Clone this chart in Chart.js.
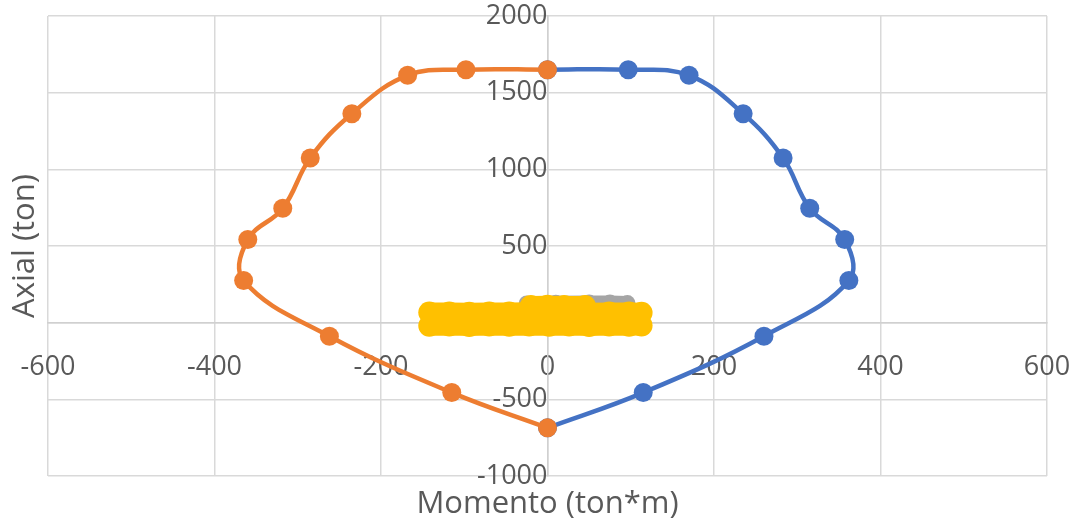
<!DOCTYPE html>
<html>
<head>
<meta charset="utf-8">
<script src="https://cdn.jsdelivr.net/npm/chart.js@4.4.1/dist/chart.umd.min.js"></script>
<style>
  html, body { margin: 0; padding: 0; background: #fff; }
  #wrap { width: 1076px; height: 525px; }
</style>
</head>
<body>
<div id="wrap"><canvas id="myChart" width="1076" height="525"></canvas></div>
<script>
// interaction diagram, positive side (ton*m, ton)
const posMoment = [0, 97, 170, 235, 283, 315, 357, 362, 260, 115, 0];
const posAxial  = [1650, 1650, 1613, 1363, 1074, 746, 542, 275, -88, -456, -686];

// negative side
const negMoment = [0, -98, -168, -235, -285, -318, -360, -365, -262, -115, 0];
const negAxial  = [1650, 1650, 1613, 1363, 1074, 746, 542, 275, -88, -456, -686];

// demand points
const loadMoment = [-142, -118, -94, -70, -46, -22, 2, 26, 50, 74, 98, 113,
                    -142, -118, -94, -70, -46, -22, 2, 26, 50, 74, 98, 113,
                    -20, 0, 20, 45];
const loadAxial  = [66, 67, 65, 66, 66, 68, 66, 67, 65, 66, 66, 65,
                    -20, -19, -21, -19, -20, -18, -20, -19, -21, -19, -20, -19,
                    108, 110, 109, 108];

const extraMoment = [-25, 10, 50, 75, 96];
const extraAxial  = [125, 130, 131, 131, 128];

const xTicks = [-600, -400, -200, 0, 200, 400, 600];
const yTicks = [-1000, -500, 0, 500, 1000, 1500, 2000];

const toPts = (xs, ys) => xs.map((x, i) => ({ x: x, y: ys[i] }));

const noPad = (scale) => {
  scale.paddingTop = 0;
  scale.paddingBottom = 0;
  scale.paddingLeft = 0;
  scale.paddingRight = 0;
};

const axisTitles = {
  id: 'axisTitles',
  afterDraw(chart) {
    const { ctx, chartArea } = chart;
    ctx.save();
    ctx.fillStyle = '#595959';
    ctx.font = '31px "Open Sans"';
    ctx.textAlign = 'center';
    ctx.textBaseline = 'middle';
    ctx.fillText('Momento (ton*m)', (chartArea.left + chartArea.right) / 2, 504);
    ctx.translate(25, (chartArea.top + chartArea.bottom) / 2);
    ctx.rotate(-Math.PI / 2);
    ctx.fillText('Axial (ton)', 0, 0);
    ctx.restore();
  }
};

var ctx = document.getElementById('myChart').getContext('2d');

new Chart(ctx, {
  type: 'scatter',
  data: {
    datasets: [
      {
        data: toPts(loadMoment, loadAxial),
        label: 'Demanda',
        showLine: true,
        backgroundColor: '#FFC000',
        borderColor: '#FFC000',
        borderWidth: 20,
        pointBorderWidth: 0,
        pointRadius: 11,
        pointHoverRadius: 11,
      },
      {
        data: toPts(extraMoment, extraAxial),
        label: 'Demanda 2',
        showLine: true,
        backgroundColor: '#A5A5A5',
        borderColor: '#A5A5A5',
        borderWidth: 14,
        pointBorderWidth: 0,
        pointRadius: 8,
      },
      {
        data: toPts(negMoment, negAxial),
        label: 'Negativo',
        showLine: true,
        tension: 0.4,
        borderColor: '#ED7D31',
        backgroundColor: '#ED7D31',
        borderWidth: 4.5,
        pointBorderWidth: 0,
        pointRadius: 9.5,
      },
      {
        data: toPts(posMoment, posAxial),
        label: 'Positivo',
        showLine: true,
        tension: 0.4,
        borderColor: '#4472C4',
        backgroundColor: '#4472C4',
        borderWidth: 4.5,
        pointBorderWidth: 0,
        pointRadius: 9.5,
      },
    ],
  },
  options: {
    responsive: false,
    animation: false,
    layout: { padding: { left: 48, right: 29, top: 16, bottom: 49 } },
    plugins: {
      legend: { display: false },
      tooltip: { enabled: false },
    },
    scales: {
      x: {
        type: 'linear',
        position: { y: 0 },
        min: -600,
        max: 600,
        afterBuildTicks: (axis) => { axis.ticks = xTicks.map((v) => ({ value: v })); },
        afterFit: noPad,
        grid: { color: '#d9d9d9', lineWidth: 1.5, drawTicks: false },
        border: { color: '#d0d0d0', width: 1.5 },
        ticks: {
          color: '#595959',
          font: { family: 'Open Sans', size: 27 },
          padding: 28,
          callback: (v) => String(v),
        },
      },
      y: {
        type: 'linear',
        position: { x: 0 },
        min: -1000,
        max: 2000,
        afterBuildTicks: (axis) => { axis.ticks = yTicks.map((v) => ({ value: v })); },
        afterFit: noPad,
        grid: { color: '#d9d9d9', lineWidth: 1.5, drawTicks: false },
        border: { color: '#d0d0d0', width: 1.5 },
        ticks: {
          color: '#595959',
          font: { family: 'Open Sans', size: 27 },
          padding: 32,
          callback: (v) => String(v),
        },
      },
    },
  },
  plugins: [axisTitles],
});
</script>
</body>
</html>
